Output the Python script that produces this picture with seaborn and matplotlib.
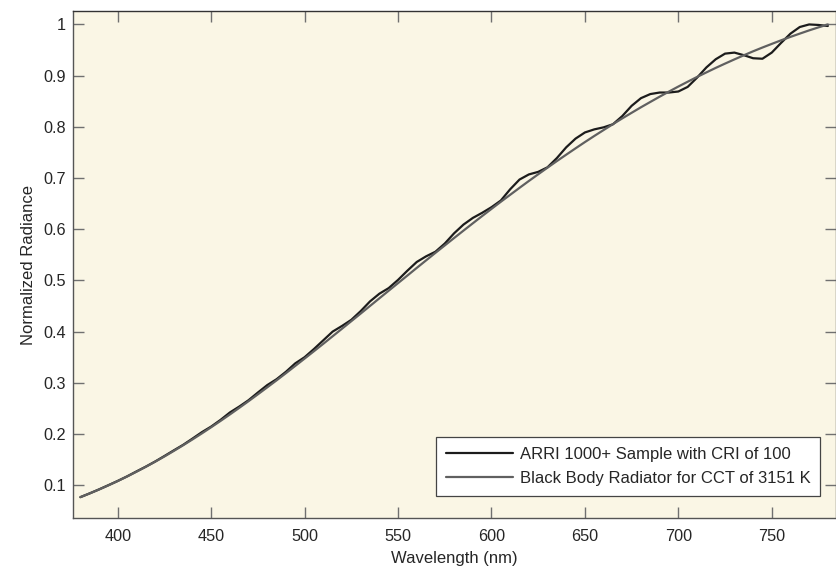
import numpy as np
import pandas as pd
import matplotlib
matplotlib.use("Agg")
import matplotlib.pyplot as plt
import seaborn as sns
from matplotlib.ticker import FuncFormatter

# Wavelength grid (nm)
wl = [380, 385, 390, 395, 400, 405, 410, 415, 420, 425, 430, 435, 440, 445,
      450, 455, 460, 465, 470, 475, 480, 485, 490, 495, 500, 505, 510, 515,
      520, 525, 530, 535, 540, 545, 550, 555, 560, 565, 570, 575, 580, 585,
      590, 595, 600, 605, 610, 615, 620, 625, 630, 635, 640, 645, 650, 655,
      660, 665, 670, 675, 680, 685, 690, 695, 700, 705, 710, 715, 720, 725,
      730, 735, 740, 745, 750, 755, 760, 765, 770, 775, 780]

# ARRI 1000+ sample (normalized radiance)
arri = [0.0766, 0.0840, 0.0918, 0.1000, 0.1083, 0.1172, 0.1268, 0.1362,
        0.1462, 0.1570, 0.1680, 0.1788, 0.1910, 0.2035, 0.2145, 0.2275,
        0.2420, 0.2535, 0.2660, 0.2810, 0.2955, 0.3070, 0.3215, 0.3380,
        0.350, 0.366, 0.383, 0.400, 0.411, 0.423, 0.440, 0.459, 0.474,
        0.485, 0.501, 0.519, 0.536, 0.547, 0.556, 0.572, 0.592, 0.609,
        0.622, 0.632, 0.643, 0.656, 0.678, 0.697, 0.707, 0.712, 0.721,
        0.739, 0.760, 0.777, 0.789, 0.795, 0.799, 0.805, 0.821, 0.841,
        0.856, 0.864, 0.867, 0.867, 0.869, 0.878, 0.896, 0.916, 0.932,
        0.943, 0.945, 0.940, 0.934, 0.933, 0.945, 0.964, 0.982, 0.995,
        1.000, 0.999, 0.997]

# Black body radiator, CCT 3151 K (normalized radiance)
bb = [0.0766, 0.0839, 0.0915, 0.0996, 0.1081, 0.1169, 0.1262, 0.1358,
      0.1458, 0.1561, 0.1669, 0.1780, 0.1894, 0.2011, 0.2132, 0.2255,
      0.2381, 0.2510, 0.2641, 0.2775, 0.2911, 0.3048, 0.3188, 0.3330,
      0.3473, 0.3617, 0.3762, 0.3909, 0.4056, 0.4204, 0.4352, 0.4501,
      0.4650, 0.4799, 0.4947, 0.5095, 0.5244, 0.5391, 0.5538, 0.5683,
      0.5828, 0.5972, 0.6115, 0.6257, 0.6397, 0.6536, 0.6672, 0.6808,
      0.6942, 0.7073, 0.7203, 0.7331, 0.7456, 0.7580, 0.7702, 0.7821,
      0.7937, 0.8052, 0.8165, 0.8274, 0.8382, 0.8486, 0.8589, 0.8689,
      0.8787, 0.8881, 0.8974, 0.9063, 0.9151, 0.9235, 0.9317, 0.9397,
      0.9475, 0.9549, 0.9620, 0.9690, 0.9757, 0.9821, 0.9884, 0.9943,
      1.0000]

labels = ["ARRI 1000+ Sample with CRI of 100",
          "Black Body Radiator for CCT of 3151 K"]
x_ticks = [400, 450, 500, 550, 600, 650, 700, 750]
y_ticks = [0.1, 0.2, 0.3, 0.4, 0.5, 0.6, 0.7, 0.8, 0.9, 1.0]

sns.set_style("ticks")
plt.rcParams['font.family'] = ['Liberation Sans', 'DejaVu Sans']

fig = plt.figure(figsize=(8.36, 5.71), dpi=100)
ax = fig.add_axes([0.087, 0.0925, 0.9135, 0.888])
ax.set_facecolor('#faf6e5')

df = pd.DataFrame({"wl": wl + wl,
                   "val": arri + bb,
                   "series": [labels[0]] * len(wl) + [labels[1]] * len(wl)})
sns.lineplot(data=df, x="wl", y="val", hue="series",
             palette={labels[0]: '#1c1c1c', labels[1]: '#606060'},
             linewidth=1.6, ax=ax, sort=False)
for ln in ax.get_lines():
    ln.set_solid_joinstyle('round')

ax.set_xlim(375.9, 784.6)
ax.set_ylim(0.0355, 1.026)
ax.set_xticks(x_ticks)
ax.set_yticks(y_ticks)
ax.yaxis.set_major_formatter(FuncFormatter(lambda v, p: f"{v:g}"))
ax.tick_params(direction='in', length=8, width=1, color='#707070',
               labelsize=11.7, labelcolor='#262626', top=True, right=True)
ax.tick_params(axis='x', pad=8)
ax.tick_params(axis='y', pad=5)
for s in ax.spines.values():
    s.set_color('#555555')
    s.set_linewidth(1.0)
ax.spines['top'].set_color('#333333')

ax.set_xlabel("Wavelength (nm)", fontsize=12, color='#262626', labelpad=5)
ax.set_ylabel("Normalized Radiance", fontsize=12, color='#262626', labelpad=5)

leg = ax.legend(loc='lower right', bbox_to_anchor=(0.979, 0.044),
                borderaxespad=0, fontsize=12, frameon=True, fancybox=False,
                handlelength=4.0, handletextpad=0.42, labelspacing=0.55,
                borderpad=0.6, title=None)
leg.get_frame().set_edgecolor('#444444')
leg.get_frame().set_linewidth(0.9)
leg.get_frame().set_facecolor('white')
leg.get_frame().set_alpha(1.0)
for t in leg.get_texts():
    t.set_color('#262626')

fig.savefig("out.png", dpi=100)
